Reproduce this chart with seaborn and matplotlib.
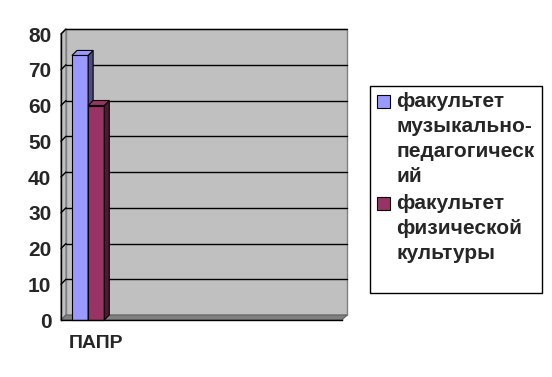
import numpy as np
import pandas as pd
import matplotlib
matplotlib.use("Agg")
import matplotlib.pyplot as plt
import seaborn as sns
from matplotlib.patches import Polygon, Rectangle
from matplotlib.transforms import ScaledTranslation, IdentityTransform

# data
categories = ["ПАПР", "", "", ""]
series = ["факультет\nмузыкально-\nпедагогическ\nий", "факультет\nфизической\nкультуры"]
values = [74, 60]          # values for ПАПР
colors = ["#9999FF", "#993366"]
side_colors = ["#4D4D80", "#4D1A33"]
yticks = [0, 10, 20, 30, 40, 50, 60, 70, 80]

sns.set_style("white")
plt.rcParams["font.family"] = ["Liberation Sans", "DejaVu Sans"]
plt.rcParams["font.weight"] = "bold"

keys = [f"c{i}" for i in range(len(categories))]
df = pd.DataFrame({"cat": [keys[0]] * len(series), "series": series, "value": values})

W, H = 552, 377
fig = plt.figure(figsize=(W / 100, H / 100), dpi=100)
ax = fig.add_axes([61 / W, 1 - 320 / H, (342 - 61) / W, (320 - 34) / H])
ax.set_facecolor("none")

sns.barplot(data=df, x="cat", y="value", hue="series", order=keys, hue_order=series,
            palette=colors, width=0.46, saturation=1, edgecolor="black", linewidth=0.8,
            ax=ax, legend=False)

ax.set_xlim(-0.5, len(keys) - 0.5)
ax.set_ylim(0, 80)
ax.set_yticks(yticks)
ax.set_yticklabels([str(t) for t in yticks], fontsize=15, fontweight="bold")
ax.set_xticks(range(len(keys)))
ax.set_xticklabels(categories, fontsize=14, fontweight="bold")
ax.set_xticks(np.arange(-0.5, len(keys)), minor=True)
ax.tick_params(axis="x", which="major", length=0, pad=11)
ax.tick_params(axis="x", which="minor", length=5, width=1, color="black", direction="out")
ax.tick_params(axis="y", length=5, width=1, color="black", direction="out", pad=2)
ax.set_xlabel("")
ax.set_ylabel("")
for s in ["top", "right"]:
    ax.spines[s].set_visible(False)
for s in ["left", "bottom"]:
    ax.spines[s].set_color("black")
    ax.spines[s].set_linewidth(1)
    ax.spines[s].set_zorder(10)

# 3D look: back wall, floor, gridlines offset by depth
d = 5
fig.canvas.draw()
T = ax.transData
x0, _ = T.transform((-0.5, 0))
x1, _ = T.transform((len(keys) - 0.5, 0))
_, yb = T.transform((0, 0))
_, yt = T.transform((0, 80))

def poly(pts, **kw):
    p = Polygon(pts, closed=True, transform=IdentityTransform(), clip_on=False, **kw)
    ax.add_artist(p)
    return p

def seg(xs, ys, **kw):
    ln = plt.Line2D(xs, ys, transform=IdentityTransform(), clip_on=False, **kw)
    ax.add_artist(ln)

poly([(x0 + d, yb + d), (x1 + d, yb + d), (x1 + d, yt + d), (x0 + d, yt + d)],
     facecolor="#C0C0C0", edgecolor="#808080", linewidth=1, zorder=0.1)
poly([(x0, yb), (x0 + d, yb + d), (x0 + d, yt + d), (x0, yt)],
     facecolor="#C0C0C0", edgecolor="#808080", linewidth=1, zorder=0.1)
poly([(x0, yb), (x1, yb), (x1 + d, yb + d), (x0 + d, yb + d)],
     facecolor="#808080", edgecolor="#606060", linewidth=0.8, zorder=0.2)
for t in yticks[1:]:
    _, yy = T.transform((0, t))
    seg([x0 + d, x1 + d], [yy + d, yy + d], color="black", linewidth=1, zorder=0.3)
    seg([x0, x0 + d], [yy, yy + d], color="black", linewidth=1, zorder=0.3)

# bars: shift for perspective and add side/top faces
shift = -8
bars = [p for p in ax.patches if isinstance(p, Rectangle) and p.get_height() > 0]
for i, b in enumerate(bars):
    b.set_transform(T + ScaledTranslation(shift / 100, 0, fig.dpi_scale_trans))
    b.set_zorder(2 + i)
    b.set_clip_on(False)
    bx0, by0 = T.transform((b.get_x(), b.get_y()))
    bx1, by1 = T.transform((b.get_x() + b.get_width(), b.get_y() + b.get_height()))
    bx0 += shift
    bx1 += shift
    poly([(bx1, by0), (bx1 + d, by0 + d), (bx1 + d, by1 + d), (bx1, by1)],
         facecolor=side_colors[i], edgecolor="black", linewidth=0.8, zorder=2 + i)
    poly([(bx0, by1), (bx0 + d, by1 + d), (bx1 + d, by1 + d), (bx1, by1)],
         facecolor=colors[i], edgecolor="black", linewidth=0.8, zorder=2 + i)

# legend box
fig.add_artist(Rectangle((370 / W, 1 - 293 / H), 172 / W, 207 / H, transform=fig.transFigure,
                         facecolor="white", edgecolor="black", linewidth=1))
entry_tops = [92, 194]
for lab, c, yt_ in zip(series, colors, entry_tops):
    fig.add_artist(Rectangle((377 / W, 1 - (yt_ + 16) / H), 13 / W, 13 / H,
                             transform=fig.transFigure, facecolor=c, edgecolor="black",
                             linewidth=0.8))
    fig.text(396 / W, 1 - yt_ / H, lab, ha="left", va="top", fontsize=15,
             fontweight="bold", linespacing=1.4)

fig.savefig("out.png", dpi=100)
